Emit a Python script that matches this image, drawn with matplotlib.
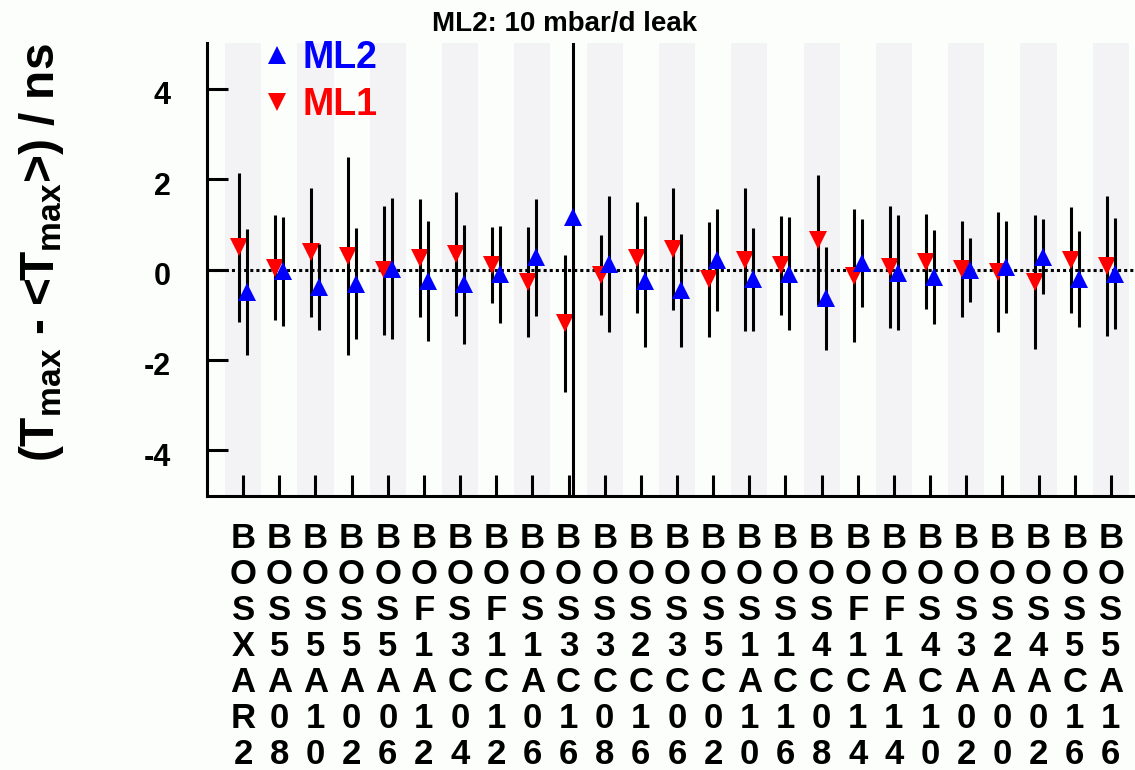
import numpy as np
import matplotlib
matplotlib.use('Agg')
import matplotlib.pyplot as plt
from matplotlib.lines import Line2D
from matplotlib.transforms import ScaledTranslation

# channel names along x
names = ['BOSXAR2', 'BOS5A08', 'BOS5A10', 'BOS5A02', 'BOS5A06', 'BOF1A12', 'BOS3C04',
         'BOF1C12', 'BOS1A06', 'BOS3C16', 'BOS3C08', 'BOS2C16', 'BOS3C06', 'BOS5C02',
         'BOS1A10', 'BOS1C16', 'BOS4C08', 'BOF1C14', 'BOF1A14', 'BOS4C10', 'BOS3A02',
         'BOS2A00', 'BOS4A02', 'BOS5C16', 'BOS5A16']

# Tmax - <Tmax> in ns
ml1 = [0.49, 0.04, 0.38, 0.30, -0.02, 0.25, 0.34, 0.10, -0.28, -1.19, -0.12, 0.26, 0.45,
       -0.22, 0.22, 0.09, 0.65, -0.14, 0.06, 0.17, 0.01, -0.05, -0.28, 0.21, 0.08]
ml1_err = [1.64, 1.16, 1.43, 2.19, 1.42, 1.30, 1.37, 0.85, 1.21, 1.51, 0.89, 1.23, 1.35,
           1.27, 1.58, 1.09, 1.43, 1.47, 1.35, 1.05, 1.07, 1.33, 1.48, 1.18, 1.55]
ml2 = [-0.50, -0.04, -0.39, -0.31, 0.02, -0.25, -0.33, -0.11, 0.27, 1.17, 0.12, -0.26, -0.46,
       0.21, -0.22, -0.09, -0.64, 0.14, -0.07, -0.17, -0.01, 0.05, 0.28, -0.22, -0.09]
ml2_err = [1.39, 1.21, 0.95, 1.23, 1.55, 1.33, 1.32, 1.07, 1.29, 8.0, 1.50, 1.45, 1.25,
           1.12, 1.13, 1.25, 1.13, 0.97, 1.27, 1.04, 0.70, 1.02, 0.83, 1.06, 1.22]

plt.rcParams['font.family'] = ['Liberation Sans', 'DejaVu Sans']
plt.rcParams['font.weight'] = 'bold'
plt.rcParams['axes.unicode_minus'] = False
plt.rcParams['mathtext.fontset'] = 'custom'
plt.rcParams['mathtext.rm'] = 'Liberation Sans:bold'
plt.rcParams['mathtext.it'] = 'Liberation Sans:bold'
plt.rcParams['mathtext.bf'] = 'Liberation Sans:bold'
plt.rcParams['mathtext.default'] = 'rm'

bg = '#fbfefb'
band = '#f3f2f5'
lw = 2.2

fig = plt.figure(figsize=(11.35, 7.7), dpi=100, facecolor=bg)
ax = fig.add_axes([207 / 1135, 1 - 495.7 / 770, 940 / 1135, 452.4 / 770])
ax.set_facecolor(bg)

x = np.arange(len(names))
for i in x[::2]:
    ax.axvspan(i - 0.5, i + 0.5, color=band, lw=0, zorder=0)
ax.axhline(0, color='k', ls=(0, (1, 1)), lw=lw, zorder=1)

ax.errorbar(x - 0.11, ml1, yerr=ml1_err, fmt='none', ecolor='k', elinewidth=lw,
            capsize=0, zorder=3)
ax.plot(x - 0.11, ml1, 'v', color='red', ms=12.5, mew=0, ls='none', zorder=4)
ax.errorbar(x + 0.11, ml2, yerr=ml2_err, fmt='none', ecolor='k', elinewidth=lw,
            capsize=0, zorder=5)
ax.plot(x + 0.11, ml2, '^', color='blue', ms=12.5, mew=0, ls='none', zorder=6)

ax.set_xlim(-1, 25)
ax.set_ylim(-5, 5)
ax.set_yticks([-4, -2, 0, 2, 4])
ax.set_xticks(x, ['\n'.join(n) for n in names])
for t in ax.get_xticklabels():
    t.set_linespacing(1.12)

for s in ['top', 'right']:
    ax.spines[s].set_visible(False)
for s in ['left', 'bottom']:
    ax.spines[s].set_linewidth(lw)

ax.tick_params(axis='both', direction='in', length=15, width=lw)
ax.tick_params(axis='y', labelsize=22, pad=26)
ax.tick_params(axis='x', labelsize=25, pad=18.7)
off = ScaledTranslation(0, -0.04, fig.dpi_scale_trans)
for t in ax.get_yticklabels():
    t.set_transform(t.get_transform() + off)

handles = [Line2D([], [], marker='^', color='blue', ls='none', ms=12.5, mew=0),
           Line2D([], [], marker='v', color='red', ls='none', ms=12.5, mew=0)]
ax.legend(handles, ['ML2', 'ML1'], loc='upper left', bbox_to_anchor=(0.065, 1.007),
          frameon=False, prop={'size': 27, 'weight': 'bold'}, labelcolor=['blue', 'red'],
          handlelength=0.5, handletextpad=0.43, borderpad=0, borderaxespad=0,
          labelspacing=0.3)

fig.text(564.5 / 1135, 1 - 31 / 770, 'ML2: 10 mbar/d leak', ha='center', va='baseline',
         fontsize=20, fontweight='bold')
fig.text(17 / 1135, 1 - 43 / 770, r'(T$_{max}$ - <T$_{max}$>) / ns', rotation=90,
         ha='left', va='top', fontsize=34.5, fontweight='bold')

fig.savefig('out.png', dpi=100, facecolor=bg)
